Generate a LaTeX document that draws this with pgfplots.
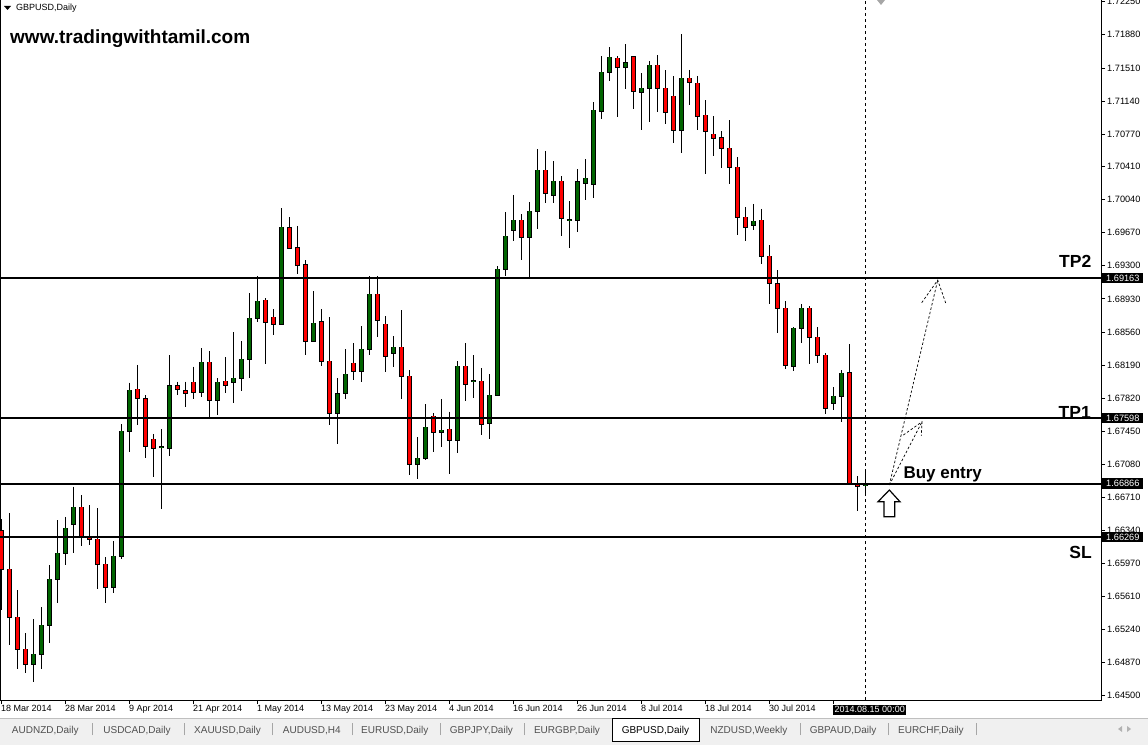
\documentclass[border=0pt]{standalone}
\usepackage{pgfplots}
\pgfplotsset{compat=1.18}
\usepackage{pgfplotstable}
\usepackage{fontspec}
\setmainfont{Liberation Sans}
\definecolor{cgreen}{RGB}{0,100,0}
\definecolor{cred}{RGB}{255,0,0}
\definecolor{tabgray}{RGB}{240,240,240}
\definecolor{tabtext}{RGB}{80,80,80}
\setlength{\fboxsep}{1.5pt}
\pgfplotstableread{
i o h l c
0 1.66339 1.66470 1.65453 1.65911
1 1.65908 1.66537 1.65062 1.65371
2 1.65371 1.65676 1.64794 1.65014
3 1.65014 1.65196 1.64749 1.64846
4 1.64846 1.65352 1.64648 1.64958
5 1.64958 1.65483 1.64797 1.65282
6 1.65282 1.65952 1.65081 1.65796
7 1.65796 1.66459 1.65534 1.66086
8 1.66086 1.66495 1.65959 1.66366
9 1.66411 1.66831 1.66093 1.66600
10 1.66600 1.66735 1.66171 1.66280
11 1.66276 1.66626 1.66183 1.66243
12 1.66243 1.66593 1.65684 1.65964
13 1.65964 1.66042 1.65528 1.65707
14 1.65707 1.66221 1.65640 1.66053
15 1.66053 1.67531 1.66019 1.67450
16 1.67450 1.67993 1.67222 1.67908
17 1.67919 1.68191 1.67520 1.67818
18 1.67818 1.67855 1.67155 1.67289
19 1.67360 1.67420 1.66942 1.67266
20 1.67271 1.67472 1.66585 1.67273
21 1.67260 1.68302 1.67174 1.67956
22 1.67956 1.68004 1.67855 1.67919
23 1.67903 1.68004 1.67725 1.67874
24 1.67997 1.68172 1.67811 1.67892
25 1.67885 1.68377 1.67836 1.68221
26 1.68221 1.68347 1.67595 1.67796
27 1.67796 1.68042 1.67635 1.67997
28 1.68008 1.68277 1.67881 1.67964
29 1.68004 1.68556 1.67763 1.68042
30 1.68042 1.68455 1.67903 1.68254
31 1.68254 1.68992 1.68049 1.68712
32 1.68712 1.69182 1.68674 1.68902
33 1.68913 1.68936 1.68198 1.68668
34 1.68724 1.68813 1.68522 1.68645
35 1.68645 1.69942 1.68645 1.69729
36 1.69729 1.69841 1.69495 1.69495
37 1.69495 1.69744 1.69211 1.69305
38 1.69305 1.69360 1.68299 1.68455
39 1.68455 1.69014 1.68455 1.68656
40 1.68668 1.68813 1.68176 1.68232
41 1.68232 1.68724 1.67517 1.67651
42 1.67651 1.68042 1.67304 1.67874
43 1.67874 1.68366 1.67814 1.68087
44 1.68210 1.68433 1.68026 1.68120
45 1.68120 1.68623 1.68004 1.68366
46 1.68366 1.69182 1.68299 1.68981
47 1.68981 1.69182 1.68500 1.68690
48 1.68645 1.68735 1.68109 1.68288
49 1.68321 1.68511 1.68172 1.68388
50 1.68388 1.68802 1.67807 1.68064
51 1.68064 1.68131 1.66958 1.67081
52 1.67081 1.67383 1.66913 1.67148
53 1.67148 1.67755 1.67126 1.67494
54 1.67617 1.67654 1.67215 1.67439
55 1.67439 1.67807 1.67278 1.67461
56 1.67472 1.67669 1.66969 1.67349
57 1.67349 1.68232 1.67204 1.68176
58 1.68176 1.68433 1.67785 1.67975
59 1.68015 1.68299 1.67818 1.68017
60 1.68008 1.68154 1.67405 1.67528
61 1.67539 1.68087 1.67360 1.67852
62 1.67852 1.69297 1.67841 1.69260
63 1.69260 1.69900 1.69185 1.69629
64 1.69696 1.70093 1.69573 1.69807
65 1.69807 1.69878 1.69360 1.69617
66 1.69617 1.70012 1.69159 1.69908
67 1.69908 1.70604 1.69714 1.70366
68 1.70366 1.70582 1.70004 1.70109
69 1.70087 1.70470 1.69997 1.70243
70 1.70243 1.70302 1.69635 1.69830
71 1.69814 1.70020 1.69501 1.69816
72 1.69807 1.70377 1.69680 1.70232
73 1.70221 1.70489 1.70038 1.70277
74 1.70210 1.71126 1.70060 1.71037
75 1.71025 1.71640 1.70936 1.71461
76 1.71461 1.71741 1.71367 1.71629
77 1.71618 1.71640 1.70965 1.71517
78 1.71517 1.71774 1.71278 1.71562
79 1.71629 1.71640 1.71054 1.71249
80 1.71238 1.71450 1.70820 1.71282
81 1.71282 1.71584 1.70909 1.71539
82 1.71539 1.71651 1.71021 1.71282
83 1.71282 1.71484 1.70887 1.71014
84 1.71193 1.71416 1.70675 1.70813
85 1.70813 1.71889 1.70563 1.71394
86 1.71394 1.71487 1.71101 1.71349
87 1.71338 1.71420 1.70820 1.70970
88 1.70981 1.71148 1.70330 1.70802
89 1.70768 1.70970 1.70529 1.70724
90 1.70724 1.70805 1.70388 1.70612
91 1.70612 1.70925 1.70216 1.70400
92 1.70400 1.70511 1.69640 1.69841
93 1.69841 1.69956 1.69579 1.69729
94 1.69752 1.69990 1.69696 1.69796
95 1.69807 1.69934 1.69316 1.69405
96 1.69405 1.69528 1.68869 1.69103
97 1.69103 1.69249 1.68545 1.68824
98 1.68824 1.68902 1.68142 1.68187
99 1.68176 1.68612 1.68120 1.68601
100 1.68601 1.68869 1.68433 1.68824
101 1.68824 1.68846 1.68198 1.68500
102 1.68500 1.68612 1.68210 1.68299
103 1.68299 1.68321 1.67640 1.67707
104 1.67763 1.67941 1.67684 1.67841
105 1.67841 1.68131 1.67550 1.68098
106 1.68098 1.68422 1.66857 1.66869
107 1.66869 1.66947 1.66556 1.66838
108 1.66846 1.66992 1.66757 1.66857
}\candles
\begin{document}
\begin{tikzpicture}
\fill[white] (0,0) rectangle (1148pt,745pt);
\begin{axis}[
  at={(0pt,45pt)}, anchor=south west, scale only axis,
  width=1101pt, height=700pt,
  xmin=-0.125, xmax=137.5, ymin=1.64448, ymax=1.72269,
  axis line style={black, line width=1pt},
  xtick={0,8,...,104},
  xticklabels={18 Mar 2014,28 Mar 2014,9 Apr 2014,21 Apr 2014,1 May 2014,13 May 2014,23 May 2014,4 Jun 2014,16 Jun 2014,26 Jun 2014,8 Jul 2014,18 Jul 2014,30 Jul 2014,{\colorbox{black}{\textcolor{white}{2014.08.15 00:00}}}},
  xtick pos=bottom, ytick pos=right, yticklabel pos=right,
  tick align=outside, major tick length=4pt,
  tick style={black, line width=0.8pt},
  xticklabel style={anchor=north west, inner sep=0pt, yshift=-1pt, font=\fontsize{9}{10}\selectfont},
  ytick={1.72250,1.71880,1.71510,1.71140,1.70770,1.70410,1.70040,1.69670,1.69300,1.68930,1.68560,1.68190,1.67820,1.67450,1.67080,1.66710,1.66340,1.65970,1.65610,1.65240,1.64870,1.64500},
  yticklabels={1.72250,1.71880,1.71510,1.71140,1.70770,1.70410,1.70040,1.69670,1.69300,1.68930,1.68560,1.68190,1.67820,1.67450,1.67080,1.66710,1.66340,1.65970,1.65610,1.65240,1.64870,1.64500},
  yticklabel style={anchor=west, inner sep=0pt, xshift=2pt, font=\fontsize{9.2}{11}\selectfont},
  extra y ticks={1.69163,1.67598,1.66866,1.66269},
  extra y tick labels={1.69163,1.67598,1.66866,1.66269},
  extra y tick style={major tick length=0pt, yticklabel style={fill=black, text=white, inner xsep=4pt, inner ysep=2pt, xshift=-1pt}},
  clip=true,
]
% wicks
\addplot[draw=none, no markers, forget plot, error bars/.cd, y dir=minus, y explicit, error mark=none,
  error bar style={draw=black, solid, line width=1pt}]
  table[x=i, y=h, y error minus expr={\thisrow{h}-\thisrow{l}}] {\candles};
% body outlines
\addplot[draw=none, no markers, forget plot, error bars/.cd, y dir=both, y explicit, error mark=none,
  error bar style={draw=black, solid, line width=5pt}]
  table[x=i, y expr={(\thisrow{o}+\thisrow{c})/2}, y error expr={abs(\thisrow{c}-\thisrow{o})/2+0.00009}] {\candles};
% up bodies
\addplot[draw=none, no markers, forget plot, error bars/.cd, y dir=both, y explicit, error mark=none,
  error bar style={draw=cgreen, solid, line width=3pt}]
  table[x=i, y expr={(\thisrow{o}+\thisrow{c})/2}, y error expr={max(\thisrow{c}-\thisrow{o},0)/2}] {\candles};
% down bodies
\addplot[draw=none, no markers, forget plot, error bars/.cd, y dir=both, y explicit, error mark=none,
  error bar style={draw=cred, solid, line width=3pt}]
  table[x=i, y expr={(\thisrow{o}+\thisrow{c})/2}, y error expr={max(\thisrow{o}-\thisrow{c},0)/2}] {\candles};
% levels
\addplot[black, line width=2pt] coordinates {(-0.125,1.69163) (137.5,1.69163)};
\addplot[black, line width=2pt] coordinates {(-0.125,1.67598) (137.5,1.67598)};
\addplot[black, line width=2pt] coordinates {(-0.125,1.66866) (137.5,1.66866)};
\addplot[black, line width=2pt] coordinates {(-0.125,1.66269) (137.5,1.66269)};
% vertical dashed line
\addplot[black, line width=0.8pt, dash pattern=on 3pt off 3pt] coordinates {(108,1.64448) (108,1.72269)};
% dashed arrows
\addplot[black, line width=0.7pt, dash pattern=on 2.5pt off 2pt] coordinates {(111.04,1.66850) (117.09,1.69140)};
\addplot[black, line width=0.7pt, dash pattern=on 2.5pt off 2pt] coordinates {(115.09,1.68887) (117.09,1.69140) (118.13,1.68872)};
\addplot[black, line width=0.7pt, dash pattern=on 2.5pt off 2pt] coordinates {(111.04,1.66850) (115.13,1.67557)};
\addplot[black, line width=0.7pt, dash pattern=on 2.5pt off 2pt] coordinates {(112.79,1.67408) (115.13,1.67557) (115.04,1.67400)};
% hollow up arrow
\addplot[black, fill=white, line width=1.2pt] coordinates {(111.04,1.66794) (112.375,1.66663) (111.71,1.66663) (111.71,1.66495) (110.375,1.66495) (110.375,1.66663) (109.625,1.66663)} -- cycle;
\end{axis}
% texts
\fill[black] (4pt,739pt) -- (11pt,739pt) -- (7.5pt,735pt) -- cycle;
\node[anchor=base west, inner sep=0pt, font=\fontsize{9}{10}\selectfont] at (16pt,734pt) {GBPUSD,Daily};
\node[anchor=base west, inner sep=0pt, font=\fontsize{19}{20}\selectfont\bfseries] at (10pt,701.7pt) {www.tradingwithtamil.com};
\node[anchor=base east, inner sep=0pt, font=\fontsize{17.5}{18}\selectfont\bfseries] at (1091.5pt,477.7pt) {TP2};
\node[anchor=base east, inner sep=0pt, font=\fontsize{17.5}{18}\selectfont\bfseries] at (1091pt,326.7pt) {TP1};
\node[anchor=base west, inner sep=0pt, font=\fontsize{17}{18}\selectfont\bfseries] at (903.3pt,266.7pt) {Buy entry};
\node[anchor=base east, inner sep=0pt, font=\fontsize{17.5}{18}\selectfont\bfseries] at (1092pt,187pt) {SL};
\fill[gray!70] (877pt,745pt) -- (885pt,745pt) -- (881pt,740pt) -- cycle;
% tab bar
\fill[tabgray] (0,0) rectangle (1148pt,27pt);
\draw[gray!50] (0,27pt) -- (1148pt,27pt);
\filldraw[fill=white, draw=black, line width=0.8pt] (612.6pt,4pt) rectangle (699.6pt,27pt);
\foreach \sx in {92.6,184.5,272.5,352,440,524.3,800.3,888,976.7} {\draw[gray!70, line width=0.8pt] (\sx pt,10pt) -- (\sx pt,22pt);}
\begin{scope}[every node/.style={anchor=base, inner sep=0pt, font=\fontsize{10}{12}\selectfont, text=tabtext}]
\node at (45.3pt,12pt) {AUDNZD,Daily};
\node at (137pt,12pt) {USDCAD,Daily};
\node at (227.5pt,12pt) {XAUUSD,Daily};
\node at (311.8pt,12pt) {AUDUSD,H4};
\node at (394.8pt,12pt) {EURUSD,Daily};
\node at (481.4pt,12pt) {GBPJPY,Daily};
\node at (567pt,12pt) {EURGBP,Daily};
\node[text=black] at (655.4pt,12pt) {GBPUSD,Daily};
\node at (748.9pt,12pt) {NZDUSD,Weekly};
\node at (843pt,12pt) {GBPAUD,Daily};
\node at (930.9pt,12pt) {EURCHF,Daily};
\end{scope}
\fill[gray!60] (1122pt,19pt) -- (1122pt,13pt) -- (1118pt,16pt) -- cycle;
\fill[gray!60] (1127pt,19pt) -- (1127pt,13pt) -- (1131pt,16pt) -- cycle;
\pgfresetboundingbox
\path[use as bounding box] (0,0) rectangle (1148pt,745pt);
\end{tikzpicture}
\end{document}
